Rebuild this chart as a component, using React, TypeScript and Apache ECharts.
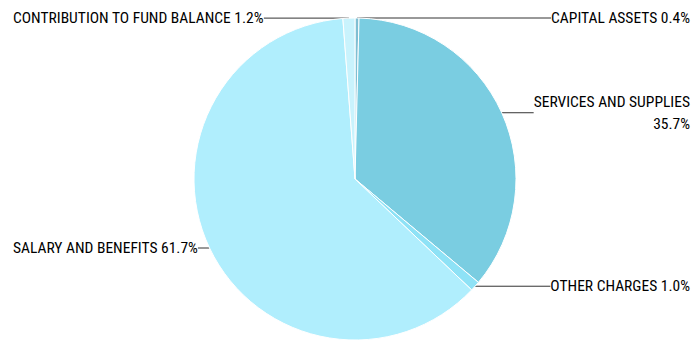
import React, { useEffect, useRef } from "react";
import * as echarts from "echarts";

const categories = [
  "CAPITAL ASSETS",
  "SERVICES AND SUPPLIES",
  "OTHER CHARGES",
  "SALARY AND BENEFITS",
  "CONTRIBUTION TO FUND BALANCE",
];
const values = [0.4, 35.7, 1.0, 61.7, 1.2];
const labelTexts = [
  "CAPITAL ASSETS 0.4%",
  "SERVICES AND SUPPLIES\n35.7%",
  "OTHER CHARGES 1.0%",
  "SALARY AND BENEFITS 61.7%",
  "CONTRIBUTION TO FUND BALANCE 1.2%",
];
const colors = ["#7fbfd3", "#7acde1", "#8ee2f6", "#b0eefd", "#c9f3fd"];

export default function App() {
  const ref = useRef<HTMLDivElement>(null);
  useEffect(() => {
    document.body.style.margin = "0";
    const chart = echarts.init(ref.current!, null, { renderer: "svg" });
    chart.setOption({
      animation: false,
      series: [
        {
          type: "pie",
          center: [355, 179],
          radius: [0, 161],
          startAngle: 90,
          clockwise: true,
          avoidLabelOverlap: true,
          itemStyle: { borderColor: "#ffffff", borderWidth: 1 },
          label: {
            show: true,
            position: "outside",
            alignTo: "edge",
            edgeDistance: 4,
            distanceToLabelLine: 0,
            overflow: "none",
            fontFamily: "'Roboto Condensed'",
            fontSize: 15.5,
            color: "#000000",
            lineHeight: 22,
            formatter: (p: any) => labelTexts[p.dataIndex],
          },
          labelLine: {
            show: true,
            length: 0,
            length2: 10,
            lineStyle: { color: "#333333", width: 1 },
          },
          data: categories.map((c, i) => ({
            name: c,
            value: values[i],
            itemStyle: { color: colors[i] },
            label: i >= 3 ? { edgeDistance: 13 } : undefined,
          })),
        },
      ],
    });
    return () => chart.dispose();
  }, []);
  return <div ref={ref} style={{ width: 694, height: 341, position: "absolute", left: 0, top: 0 }} />;
}
